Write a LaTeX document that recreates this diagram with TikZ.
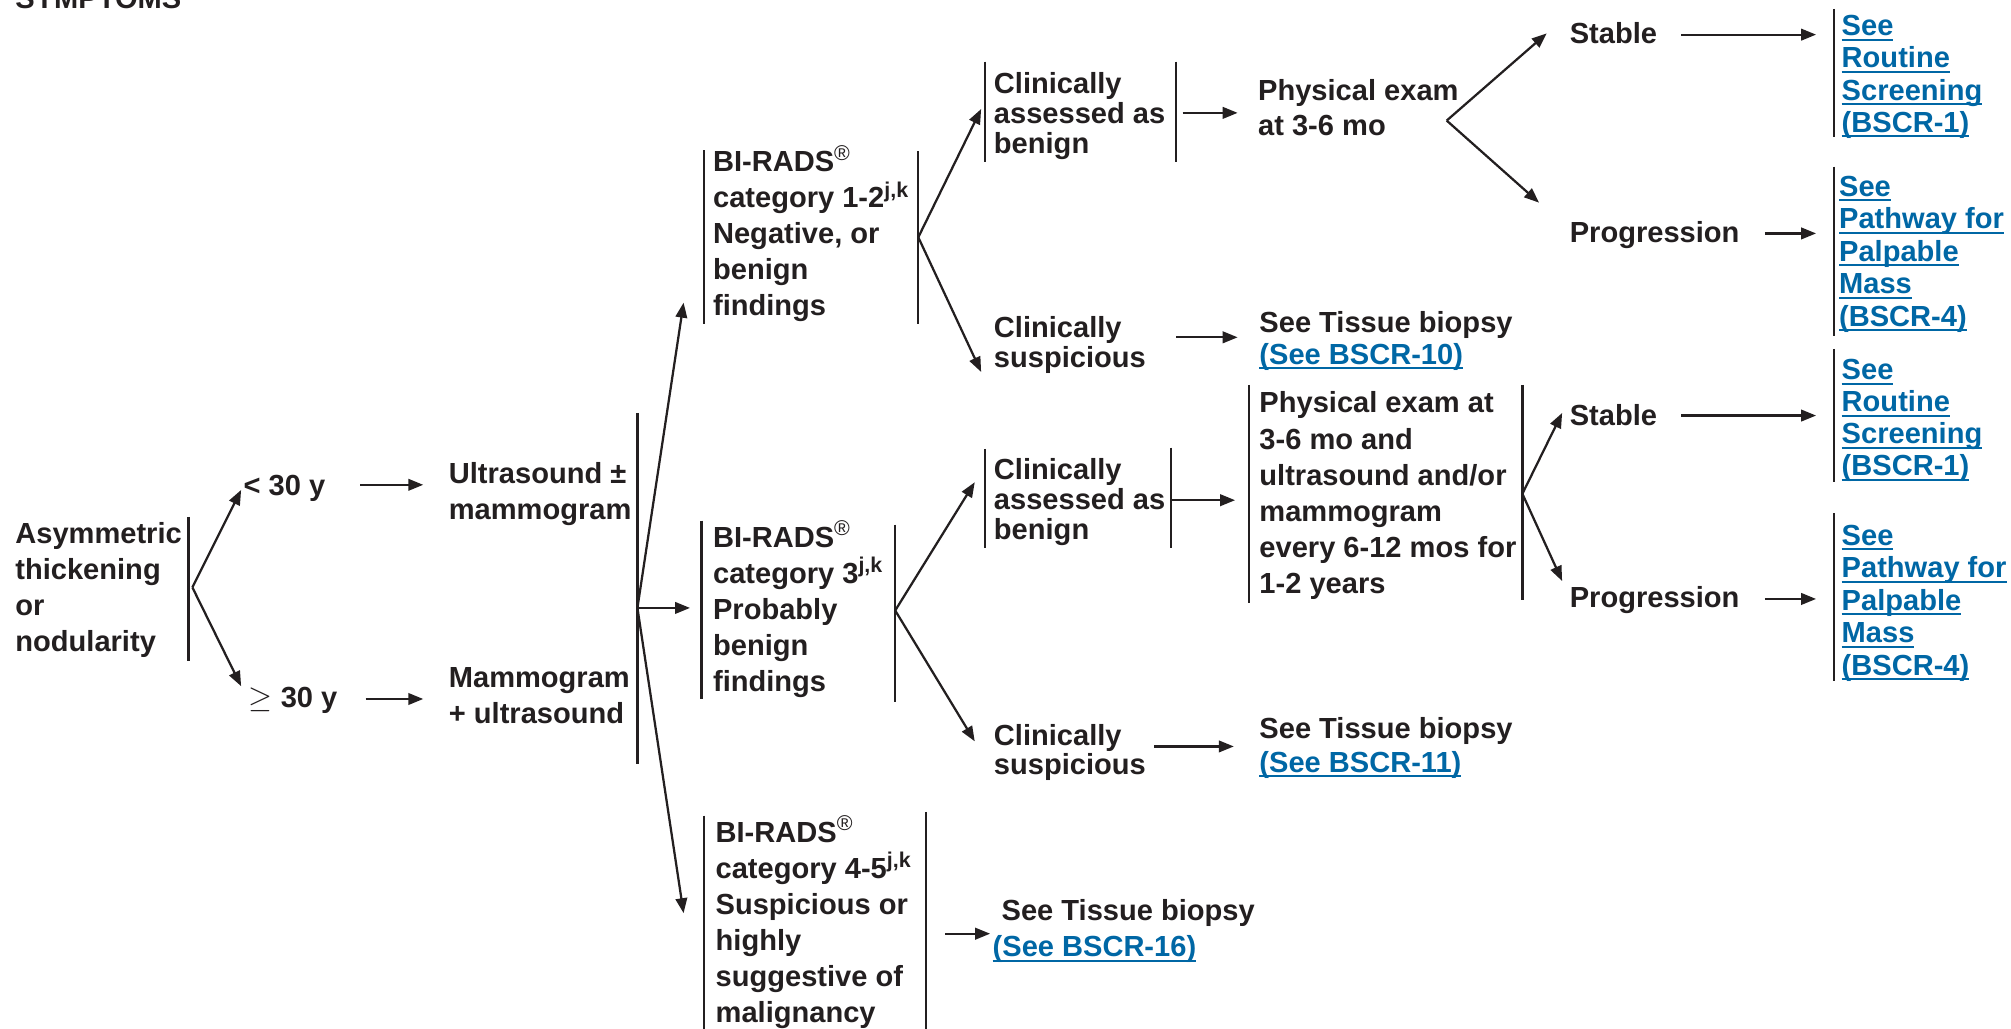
\documentclass[tikz,border=0pt]{standalone}
\usepackage{fontspec}
\setmainfont{Liberation Sans}
\usetikzlibrary{arrows.meta}
\definecolor{ink}{RGB}{35,31,32}
\definecolor{linkblue}{RGB}{0,103,165}
\newcommand\ml[2]{{\fontsize{13.6pt}{#1}\selectfont\begin{tabular}[t]{@{}l@{}}#2\end{tabular}}}
\newcommand\lk[1]{{\color{linkblue}\setbox0\hbox{#1}\rlap{\rule[-2.4pt]{\wd0}{0.95pt}}\box0}}
\newcommand\sups[1]{\smash{\raisebox{0.5pt}{\fontsize{10pt}{10pt}\selectfont #1}}}
\begin{document}
\begin{tikzpicture}[x=0.6pt,y=-0.6pt,
  txt/.style={anchor=base west,inner sep=0pt,outer sep=0pt,text=ink,
    font=\bfseries\fontsize{13.6pt}{16.8pt}\selectfont},
  bar/.style={draw=ink,line width=1.05pt},
  arr/.style={draw=ink,line width=1.05pt,-{Triangle[length=7pt,width=5.4pt]}}]
\useasboundingbox (0,0) rectangle (1568,802);
\fill[white] (0,0) rectangle (1568,802);

% ---------- text nodes ----------
\node[txt] (sym) at (12,7) {SYMPTOMS};
\node[txt] (asym) at (12,424) {\ml{16.8pt}{Asymmetric\\thickening\\or\\nodularity}};
\node[txt] (lt30) at (190,386) {< 30 y};
\node[txt] (ge30) at (194,552) {$\geq$ 30 y};
\node[txt] (us) at (350,377) {\ml{16.8pt}{Ultrasound ±\\mammogram}};
\node[txt] (mg) at (350,536) {\ml{16.8pt}{Mammogram\\+ ultrasound}};
\node[txt] (bi12) at (556,134) {\ml{16.8pt}{BI-RADS\raisebox{5pt}{\sups{\mdseries ®}}\\category 1-2\raisebox{4.5pt}{\sups{j,k}}\\Negative, or\\benign\\findings}};
\node[txt] (cab1) at (775,73) {\ml{13.5pt}{Clinically\\assessed as\\benign}};
\node[txt] (pe1) at (981,78) {\ml{16.8pt}{Physical exam\\at 3-6 mo}};
\node[txt] (st1) at (1224,34) {Stable};
\node[txt] (pr1) at (1224,189) {Progression};
\node[txt] (l1) at (1436,28) {\ml{15pt}{\lk{See}\\\lk{Routine}\\\lk{Screening}\\\lk{(BSCR-1)}}};
\node[txt] (l2) at (1434,153) {\ml{15.2pt}{\lk{See}\\\lk{Pathway for}\\\lk{Palpable}\\\lk{Mass}\\\lk{(BSCR-4)}}};
\node[txt] (cs1) at (775,263) {\ml{13.5pt}{Clinically\\suspicious}};
\node[txt] (tb1) at (982,259) {\ml{15pt}{See Tissue biopsy\\\lk{(See BSCR-10)}}};
\node[txt] (bi3) at (556,427) {\ml{16.8pt}{BI-RADS\raisebox{5pt}{\sups{\mdseries ®}}\\category 3\raisebox{4.5pt}{\sups{j,k}}\\Probably\\benign\\findings}};
\node[txt] (cab2) at (775,374) {\ml{13.5pt}{Clinically\\assessed as\\benign}};
\node[txt] (pe2) at (982,322) {\ml{16.9pt}{Physical exam at\\3-6 mo and\\ultrasound and/or\\mammogram\\every 6-12 mos for\\1-2 years}};
\node[txt] (st2) at (1224,332) {Stable};
\node[txt] (pr2) at (1224,474) {Progression};
\node[txt] (l3) at (1436,296) {\ml{15pt}{\lk{See}\\\lk{Routine}\\\lk{Screening}\\\lk{(BSCR-1)}}};
\node[txt] (l4) at (1436,425) {\ml{15.2pt}{\lk{See}\\\lk{Pathway for}\\\lk{Palpable}\\\lk{Mass}\\\lk{(BSCR-4)}}};
\node[txt] (cs2) at (775,581) {\ml{13.5pt}{Clinically\\suspicious}};
\node[txt] (tb2) at (982,576) {\ml{15.6pt}{See Tissue biopsy\\\lk{(See BSCR-11)}}};
\node[txt] (bi45) at (558,657) {\ml{16.8pt}{BI-RADS\raisebox{5pt}{\sups{\mdseries ®}}\\category 4-5\raisebox{4.5pt}{\sups{j,k}}\\Suspicious or\\highly\\suggestive of\\malignancy}};
\node[txt] (tb3) at (774,718) {\ml{16.8pt}{\hspace{4.2pt}See Tissue biopsy\\\lk{(See BSCR-16)}}};

% ---------- bars ----------
\draw[bar] (147,403) -- (147,515);
\draw[bar] (497,322) -- (497,596);
\draw[bar] (549,117) -- (549,253);
\draw[bar] (716,118) -- (716,253);
\draw[bar] (768,48) -- (768,126);
\draw[bar] (917,48) -- (917,126);
\draw[bar] (1430,7) -- (1430,107);
\draw[bar] (1430,130) -- (1430,262);
\draw[bar] (547,406) -- (547,545);
\draw[bar] (698,409) -- (698,547);
\draw[bar] (768,350) -- (768,427);
\draw[bar] (913,349) -- (913,427);
\draw[bar] (974,300) -- (974,470);
\draw[bar] (1187,300) -- (1187,468);
\draw[bar] (1430,272) -- (1430,376);
\draw[bar] (1430,400) -- (1430,531);
\draw[bar] (549,636) -- (549,805);
\draw[bar] (722,633) -- (722,805);

% ---------- branch points and arrow ends ----------
\coordinate (asymB) at (150,458);
\coordinate (lt30L) at (188,382);
\coordinate (ge30L) at (188,535);
\coordinate (lt30R) at (281,378);
\coordinate (usL) at (330,378);
\coordinate (ge30R) at (285,545);
\coordinate (mgL) at (330,545);
\coordinate (imgB) at (497,474);
\coordinate (bi12L) at (533,236);
\coordinate (bi3L) at (538,474);
\coordinate (bi45L) at (533,712);
\coordinate (bi12B) at (716,185);
\coordinate (cab1L) at (765,85);
\coordinate (cs1L) at (765,290);
\coordinate (cab1R) at (922,88);
\coordinate (pe1L) at (965,88);
\coordinate (pe1B) at (1128,94);
\coordinate (st1L) at (1206,26);
\coordinate (pr1L) at (1200,158);
\coordinate (st1R) at (1311,27);
\coordinate (l1L) at (1416,27);
\coordinate (pr1R) at (1376,182);
\coordinate (l2L) at (1416,182);
\coordinate (cs1R) at (917,263);
\coordinate (tb1L) at (965,263);
\coordinate (bi3B) at (698,476);
\coordinate (cab2L) at (760,376);
\coordinate (cs2L) at (760,578);
\coordinate (cab2R) at (913,390);
\coordinate (pe2L) at (963,390);
\coordinate (pe2B) at (1187,385);
\coordinate (st2L) at (1218,322);
\coordinate (pr2L) at (1218,453);
\coordinate (st2R) at (1311,324);
\coordinate (l3L) at (1416,324);
\coordinate (pr2R) at (1376,467);
\coordinate (l4L) at (1416,467);
\coordinate (cs2R) at (900,582);
\coordinate (tb2L) at (962,582);
\coordinate (bi45R) at (737,728);
\coordinate (tb3L) at (772,728);

% ---------- connectors ----------
\draw[arr] (asymB) -- (lt30L);
\draw[arr] (asymB) -- (ge30L);
\draw[arr] (lt30R) -- (usL);
\draw[arr] (ge30R) -- (mgL);
\draw[arr] (imgB) -- (bi12L);
\draw[arr] (imgB) -- (bi3L);
\draw[arr] (imgB) -- (bi45L);
\draw[arr] (bi12B) -- (cab1L);
\draw[arr] (bi12B) -- (cs1L);
\draw[arr] (cab1R) -- (pe1L);
\draw[arr] (pe1B) -- (st1L);
\draw[arr] (pe1B) -- (pr1L);
\draw[arr] (st1R) -- (l1L);
\draw[arr] (pr1R) -- (l2L);
\draw[arr] (cs1R) -- (tb1L);
\draw[arr] (bi3B) -- (cab2L);
\draw[arr] (bi3B) -- (cs2L);
\draw[arr] (cab2R) -- (pe2L);
\draw[arr] (pe2B) -- (st2L);
\draw[arr] (pe2B) -- (pr2L);
\draw[arr] (st2R) -- (l3L);
\draw[arr] (pr2R) -- (l4L);
\draw[arr] (cs2R) -- (tb2L);
\draw[arr] (bi45R) -- (tb3L);
\end{tikzpicture}
\end{document}
